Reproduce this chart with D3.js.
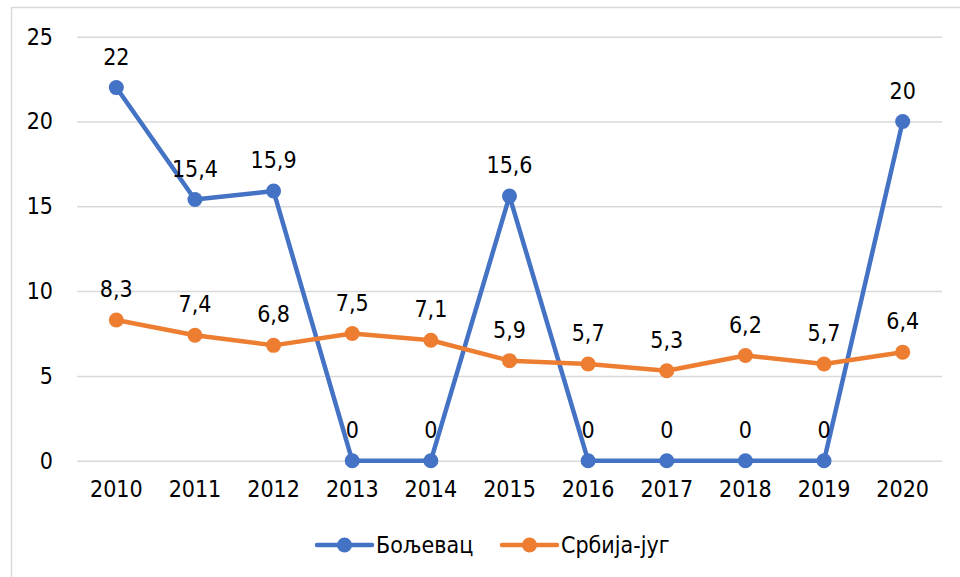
<!DOCTYPE html>
<html><head><meta charset="utf-8">
<script src="https://d3js.org/d3.v7.min.js"></script>
<style>body{margin:0;background:#fff}svg{display:block}</style>
</head><body>
<svg id="c" width="960" height="577"></svg>
<script>
const years = ["2010","2011","2012","2013","2014","2015","2016","2017","2018","2019","2020"];
const boljevac = [22, 15.4, 15.9, 0, 0, 15.6, 0, 0, 0, 0, 20];
const srbijaJug = [8.3, 7.4, 6.8, 7.5, 7.1, 5.9, 5.7, 5.3, 6.2, 5.7, 6.4];
const yTicks = [0, 5, 10, 15, 20, 25];
const seriesNames = ["Бољевац", "Србија-југ"];
const colors = ["#4472C4", "#ED7D31"];

const FONT = "'DejaVu Sans Condensed','DejaVu Sans',sans-serif";
const FS = 23;
const svg = d3.select("#c");
svg.append("rect").attr("x",11.5).attr("y",7.5).attr("width",980).attr("height",600)
  .attr("fill","#fff").attr("stroke","#D9D9D9").attr("stroke-width",1.5);

const x = d3.scaleBand().domain(years).range([77, 942]);
const y = d3.scaleLinear().domain([0, 25]).range([460.7, 36.7]);
const cx = d => x(d) + x.bandwidth()/2;

const yAxis = d3.axisLeft(y).tickValues(yTicks).tickSize(-(942-77)).tickPadding(24).tickFormat(d3.format("d"));
const gy = svg.append("g").attr("transform","translate(77,0)").call(yAxis);
gy.select(".domain").remove();
gy.selectAll(".tick line").attr("stroke","#D9D9D9").attr("stroke-width",1.5);
gy.selectAll(".tick text").attr("font-family",FONT).attr("font-size",FS).attr("fill","#000");

const xAxis = d3.axisBottom(x).tickSize(0).tickPadding(20);
const gx = svg.append("g").attr("transform","translate(0,460.7)").call(xAxis);
gx.select(".domain").remove();
gx.selectAll(".tick text").attr("font-family",FONT).attr("font-size",FS).attr("fill","#000");

const fmt = v => String(v).replace(".", ",");
[boljevac, srbijaJug].forEach((vals, i) => {
  const data = years.map((yr, j) => ({yr, v: vals[j]}));
  const line = d3.line().x(d => cx(d.yr)).y(d => y(d.v));
  svg.append("path").datum(data).attr("d", line).attr("fill","none")
    .attr("stroke", colors[i]).attr("stroke-width", 4.5).attr("stroke-linejoin","round");
  svg.append("g").selectAll("circle").data(data).join("circle")
    .attr("cx", d => cx(d.yr)).attr("cy", d => y(d.v)).attr("r", 7.5).attr("fill", colors[i]);
});
[boljevac, srbijaJug].forEach((vals, i) => {
  svg.append("g").selectAll("text").data(years.map((yr, j) => ({yr, v: vals[j]}))).join("text")
    .attr("x", d => cx(d.yr)).attr("y", d => y(d.v) - 23)
    .attr("text-anchor","middle").attr("font-family",FONT).attr("font-size",FS).attr("fill","#000")
    .text(d => fmt(d.v));
});

// legend
const leg = [{x:317}, {x:502}];
seriesNames.forEach((n, i) => {
  const g = svg.append("g").attr("transform", `translate(${leg[i].x},545)`);
  g.append("line").attr("x1",0).attr("x2",55).attr("y1",0).attr("y2",0)
    .attr("stroke",colors[i]).attr("stroke-width",4.5).attr("stroke-linecap","round");
  g.append("circle").attr("cx",27.5).attr("cy",0).attr("r",7.5).attr("fill",colors[i]);
  g.append("text").attr("x",59).attr("y",8).attr("font-family",FONT).attr("font-size",FS).attr("fill","#000").text(n);
});
</script>
</body></html>
